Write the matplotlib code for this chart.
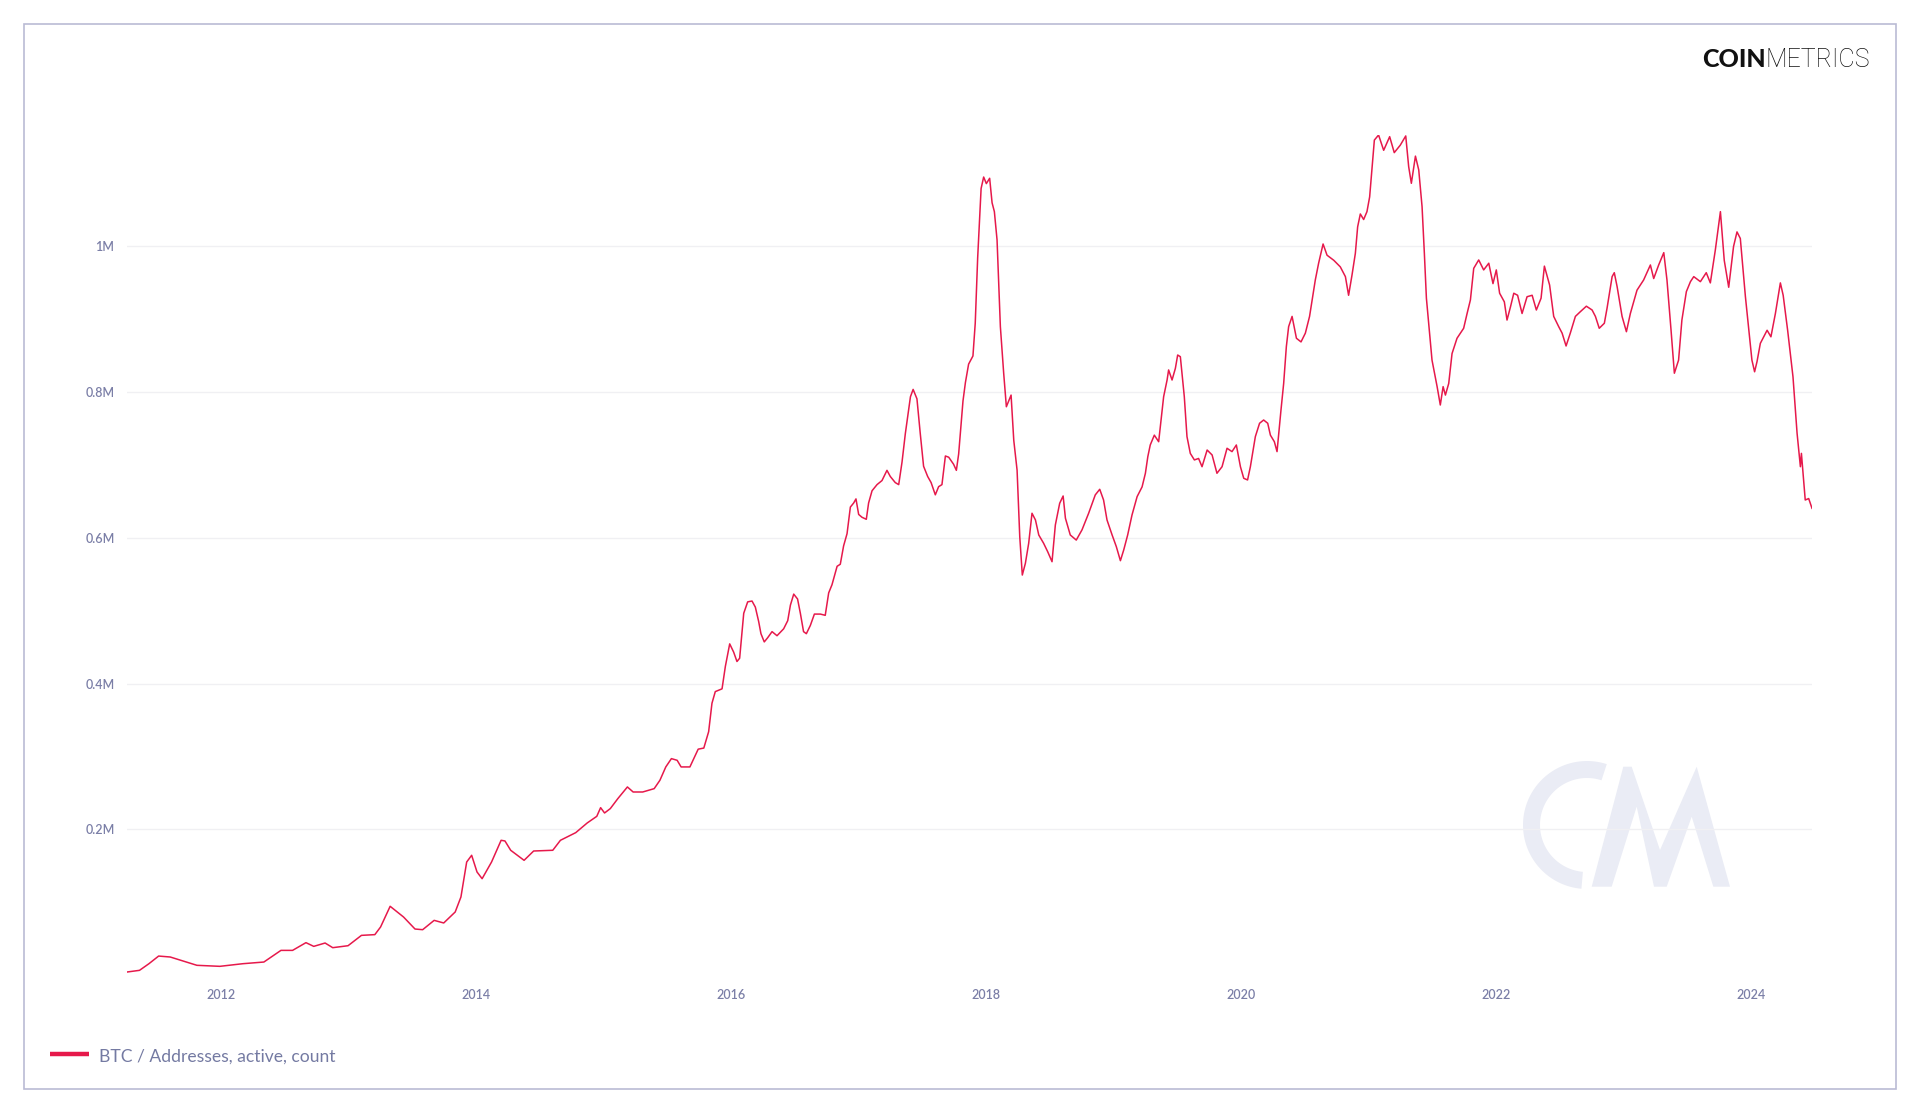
import matplotlib
matplotlib.use("Agg")
import matplotlib.pyplot as plt
from matplotlib.patches import Polygon, Rectangle
import numpy as np

# ---------------- data ----------------
years = [
    2011.265, 2011.363, 2011.437, 2011.513, 2011.604, 2011.813, 2011.993, 2012.173, 2012.338, 2012.472,
    2012.563, 2012.668, 2012.729, 2012.818, 2012.878, 2012.998, 2013.103, 2013.208, 2013.253, 2013.328,
    2013.433, 2013.523, 2013.583, 2013.673, 2013.748, 2013.838, 2013.883, 2013.928, 2013.967, 2014.009,
    2014.049, 2014.123, 2014.198, 2014.228, 2014.273, 2014.378, 2014.453, 2014.603, 2014.663, 2014.783,
    2014.873, 2014.948, 2014.978, 2015.009, 2015.054, 2015.113, 2015.188, 2015.233, 2015.308, 2015.398,
    2015.443, 2015.489, 2015.533, 2015.578, 2015.609, 2015.678, 2015.743, 2015.787, 2015.825, 2015.851,
    2015.877, 2015.930, 2015.956, 2015.990, 2016.021, 2016.047, 2016.068, 2016.100, 2016.131, 2016.165,
    2016.191, 2016.217, 2016.235, 2016.261, 2016.287, 2016.322, 2016.361, 2016.413, 2016.445, 2016.466,
    2016.492, 2016.522, 2016.544, 2016.569, 2016.591, 2016.622, 2016.654, 2016.701, 2016.739, 2016.766,
    2016.792, 2016.832, 2016.857, 2016.883, 2016.910, 2016.936, 2016.962, 2016.980, 2017.001, 2017.027,
    2017.061, 2017.079, 2017.106, 2017.145, 2017.184, 2017.223, 2017.249, 2017.288, 2017.315, 2017.341,
    2017.367, 2017.407, 2017.428, 2017.458, 2017.484, 2017.510, 2017.542, 2017.569, 2017.602, 2017.628,
    2017.654, 2017.681, 2017.707, 2017.745, 2017.767, 2017.785, 2017.803, 2017.819, 2017.838, 2017.863,
    2017.897, 2017.915, 2017.934, 2017.961, 2017.981, 2018.002, 2018.028, 2018.047, 2018.065, 2018.086,
    2018.112, 2018.138, 2018.159, 2018.196, 2018.217, 2018.243, 2018.264, 2018.284, 2018.308, 2018.334,
    2018.360, 2018.387, 2018.413, 2018.451, 2018.483, 2018.517, 2018.543, 2018.577, 2018.604, 2018.622,
    2018.660, 2018.707, 2018.752, 2018.804, 2018.856, 2018.891, 2018.921, 2018.948, 2018.988, 2019.021,
    2019.053, 2019.079, 2019.110, 2019.144, 2019.184, 2019.223, 2019.249, 2019.268, 2019.287, 2019.319,
    2019.353, 2019.379, 2019.392, 2019.419, 2019.431, 2019.458, 2019.484, 2019.502, 2019.523, 2019.536,
    2019.554, 2019.575, 2019.601, 2019.633, 2019.666, 2019.693, 2019.733, 2019.772, 2019.810, 2019.850,
    2019.889, 2019.928, 2019.962, 2019.994, 2020.020, 2020.050, 2020.072, 2020.111, 2020.144, 2020.176,
    2020.208, 2020.229, 2020.260, 2020.281, 2020.312, 2020.333, 2020.354, 2020.372, 2020.399, 2020.433,
    2020.469, 2020.503, 2020.536, 2020.581, 2020.607, 2020.642, 2020.673, 2020.726, 2020.777, 2020.817,
    2020.842, 2020.869, 2020.895, 2020.913, 2020.934, 2020.960, 2020.986, 2021.007, 2021.044, 2021.077,
    2021.117, 2021.164, 2021.200, 2021.247, 2021.290, 2021.313, 2021.334, 2021.366, 2021.392, 2021.418,
    2021.436, 2021.452, 2021.496, 2021.536, 2021.561, 2021.583, 2021.601, 2021.627, 2021.653, 2021.692,
    2021.744, 2021.771, 2021.797, 2021.823, 2021.862, 2021.901, 2021.941, 2021.974, 2022.000, 2022.026,
    2022.063, 2022.084, 2022.111, 2022.137, 2022.167, 2022.202, 2022.241, 2022.281, 2022.314, 2022.351,
    2022.377, 2022.418, 2022.450, 2022.489, 2022.516, 2022.547, 2022.580, 2022.620, 2022.659, 2022.706,
    2022.751, 2022.777, 2022.807, 2022.847, 2022.868, 2022.908, 2022.925, 2022.947, 2022.986, 2023.020,
    2023.051, 2023.103, 2023.155, 2023.208, 2023.234, 2023.273, 2023.313, 2023.338, 2023.370, 2023.396,
    2023.429, 2023.455, 2023.490, 2023.522, 2023.548, 2023.600, 2023.646, 2023.678, 2023.717, 2023.757,
    2023.787, 2023.822, 2023.860, 2023.887, 2023.913, 2023.953, 2024.004, 2024.025, 2024.044, 2024.070,
    2024.123, 2024.153, 2024.188, 2024.227, 2024.249, 2024.284, 2024.326, 2024.358, 2024.384, 2024.392,
    2024.422, 2024.449, 2024.475,
]

# active addresses, thousands
active_k = [
    4.1, 6.4, 15.5, 26, 24.7, 13.3, 11.9, 15.5, 17.8, 33.8,
    33.8, 44.4, 39.3, 43.9, 37.5, 40.2, 54.4, 55.4, 65.9, 94.3,
    79.6, 63.1, 62.2, 75, 71.4, 86.5, 107.1, 155.1, 164.3, 141.4,
    132.2, 155.1, 184.9, 184, 171.2, 157.4, 170.2, 171.2, 184.9, 195.4,
    208.7, 217.8, 229.7, 222.4, 228.4, 242.1, 258.1, 251.2, 251.2, 255.8,
    267.3, 285.6, 297, 294.7, 285.6, 285.6, 310, 311.5, 334, 373,
    389, 392.8, 423.6, 454.5, 443.2, 430.3, 434.8, 496.5, 512.2, 513.3,
    505, 485.3, 468.5, 457.2, 462.8, 471.3, 465.7, 475.2, 486.4, 507.7,
    522.8, 516.1, 496.5, 471.3, 468.5, 479.7, 495.4, 495.4, 493.7, 524.5,
    535.7, 561, 563.8, 589, 605.8, 642.3, 647.9, 653.5, 632.2, 628.3,
    625.5, 647.9, 664.7, 673.1, 678.7, 692.7, 684.3, 675.9, 673.1, 704,
    743.2, 793.7, 803.8, 790.9, 743.2, 698.3, 684.3, 675.9, 659.1, 670.3,
    673.1, 712.4, 710.7, 701.1, 692.7, 715.2, 754.4, 788, 813.3, 838.5,
    849.7, 894.6, 984.3, 1079.6, 1095.3, 1086.3, 1093.6, 1060, 1047.8, 1009,
    890, 826, 780, 796, 734, 693, 601.7, 549, 565, 592.6,
    633.8, 624.6, 604, 592.6, 581, 567.3, 617.7, 647.5, 657.5, 627,
    604, 597, 611, 633.8, 659, 666.7, 652, 624.6, 604, 588,
    568.7, 583.4, 604, 631.4, 656.6, 670, 688.7, 711.5, 727.5, 741,
    732, 773, 793.8, 816.7, 830.5, 816.7, 832.7, 851, 848.7, 826,
    793.8, 739, 716, 707, 709, 697.7, 720.6, 713.8, 688.7, 697.7,
    723, 718.4, 727.5, 697.7, 681.8, 679.5, 697.7, 739, 757.3, 761.8,
    757.3, 741, 732, 718.4, 775.6, 812, 862.5, 890, 904, 874,
    869, 881, 904, 954, 977, 1003.4, 988, 981, 972, 958.6,
    933, 961, 990.6, 1027, 1044.6, 1037, 1047.8, 1068, 1146, 1153,
    1132, 1150.7, 1128.8, 1139, 1151.7, 1109.6, 1086.7, 1124, 1105, 1054.6,
    990.6, 929, 844, 807.6, 782.4, 807.6, 796, 812, 853, 874,
    887.7, 908, 926.6, 970, 981.5, 967.8, 977, 949, 967.8, 935.8,
    924, 899, 917, 935.8, 933, 908, 931, 933, 912.8, 929,
    973, 947, 904, 890, 881, 863.4, 881, 904, 910.5, 918,
    912.8, 904, 887.7, 894.6, 915, 958.6, 964, 945, 904, 883,
    908, 940, 954, 974.6, 956, 974.6, 991.5, 954, 885, 826,
    844, 899, 938, 951.7, 958.6, 951.7, 964, 950, 995, 1047.8,
    981, 944, 1000, 1020, 1011, 931, 844, 828, 842, 867,
    885, 876, 908, 950, 933, 885, 821, 743.6, 697.7, 716,
    652, 654, 640.6,
]
assert len(years) == len(active_k)

y_ticks = [200000, 400000, 600000, 800000, 1000000]
y_tick_labels = ["0.2M", "0.4M", "0.6M", "0.8M", "1M"]
x_ticks = [2012, 2014, 2016, 2018, 2020, 2022, 2024]
x_tick_labels = ["2012", "2014", "2016", "2018", "2020", "2022", "2024"]
series_label = "BTC / Addresses, active, count"

# ---------------- styling ----------------
LINE = "#e6194b"
TXT = "#7b7fa7"
GRID = "#f0f0f3"
FRAME = "#babbd4"
WM = "#eaecf5"
FONT = ["Lato", "DejaVu Sans"]

W, H = 1920, 1114
fig = plt.figure(figsize=(W / 100, H / 100), dpi=100)
fig.patch.set_facecolor("white")

# background overlay axes in pixel coordinates (y down)
bg = fig.add_axes([0, 0, 1, 1], zorder=0)
bg.set_xlim(0, W)
bg.set_ylim(H, 0)
bg.axis("off")

# outer frame
bg.add_patch(Rectangle((24, 24), 1872, 1065, fill=False, edgecolor=FRAME, linewidth=1.2))

# watermark "CM"
cx, cy, ro, ri = 1587, 825, 64, 47
ang = np.radians(np.linspace(72, 265, 80))
outer = [(cx + ro * np.cos(a), cy - ro * np.sin(a)) for a in ang]
inner = [(cx + ri * np.cos(a), cy - ri * np.sin(a)) for a in ang[::-1]]
bg.add_patch(Polygon(outer + inner, closed=True, facecolor=WM, edgecolor="none"))
m_pts = [(1591.7, 886.7), (1623.3, 766.7), (1631.7, 766.7), (1660, 850), (1696.7, 766.7),
         (1730, 886.7), (1713.3, 886.7), (1691.7, 816.7), (1666.7, 886.7), (1654, 886.7),
         (1636.7, 806.7), (1611.7, 886.7)]
bg.add_patch(Polygon(m_pts, closed=True, facecolor=WM, edgecolor="none"))

# main axes
left, right, bottom_px, top_px = 127, 1812, 975, 135
ax = fig.add_axes([left / W, 1 - bottom_px / H, (right - left) / W, (bottom_px - top_px) / H], zorder=1)
ax.patch.set_alpha(0)
vals = np.array(active_k) * 1000.0
ax.plot(years, vals, color=LINE, linewidth=1.1, solid_joinstyle="round")
ax.set_xlim(years[0], years[-1])
ax.set_ylim(0, 1153000)

ax.set_yticks(y_ticks)
ax.set_yticklabels(y_tick_labels)
ax.set_xticks(x_ticks)
ax.set_xticklabels(x_tick_labels)
ax.tick_params(axis="both", length=0, colors=TXT, labelsize=9)
ax.tick_params(axis="y", pad=9)
ax.tick_params(axis="x", pad=10)
for lab in ax.get_xticklabels() + ax.get_yticklabels():
    lab.set_fontfamily(FONT)
    lab.set_color(TXT)
    lab.set_fontweight("semibold")
ax.grid(axis="y", color=GRID, linewidth=1.0)
ax.set_axisbelow(True)
for s in ax.spines.values():
    s.set_visible(False)

# legend (manual)
bg.plot([50, 89], [1054, 1054], color=LINE, linewidth=3.2, solid_capstyle="butt")
bg.text(99, 1057, series_label, fontsize=12.6, color="#747aa2", family=FONT, va="center", ha="left")

# logo
fig.canvas.draw()
r = fig.canvas.get_renderer()
t2 = bg.text(1870, 67, "METRICS", fontsize=18, color="#111111",
             family=["Roboto", "Lato", "DejaVu Sans"],
             fontweight="light", ha="right", va="baseline")
bb = t2.get_window_extent(renderer=r)
bg.text(bb.x0, 67, "COIN", fontsize=18, color="#111111", family=FONT,
        fontweight="black", ha="right", va="baseline")

fig.savefig("out.png", dpi=100, facecolor="white")
